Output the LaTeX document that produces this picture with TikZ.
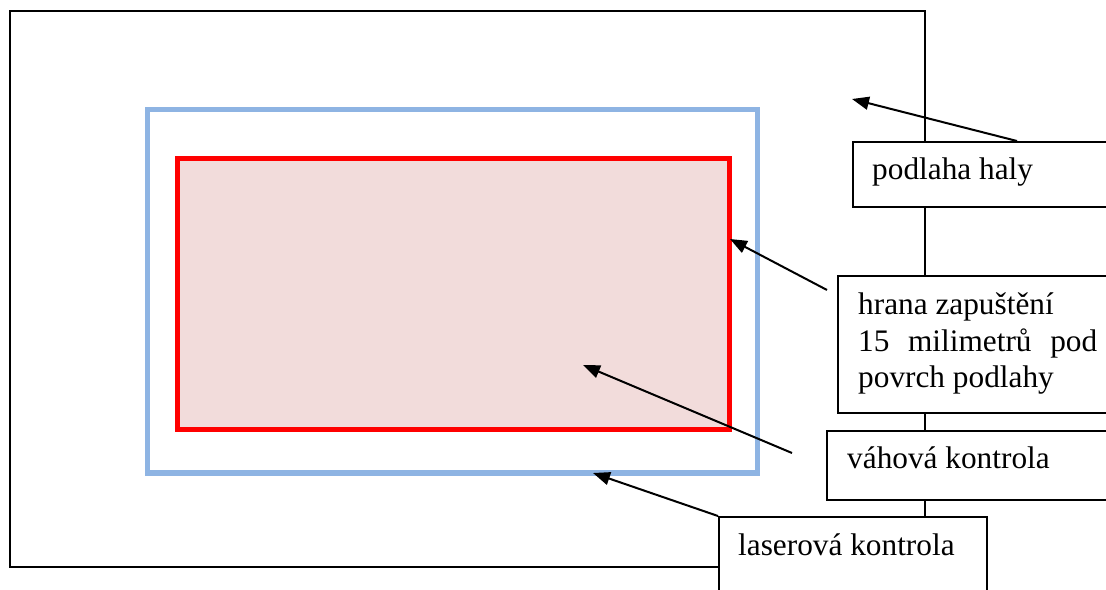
\documentclass[tikz,border=0pt]{standalone}
\usepackage{fontspec}
\setmainfont{Liberation Serif}
\usetikzlibrary{arrows.meta}
\definecolor{laserblue}{HTML}{8EB4E3}
\definecolor{weighfill}{HTML}{F2DCDB}
\begin{document}
\begin{tikzpicture}[x=1bp,y=-1bp,
  hall/.style={draw=black,line width=2bp},
  laser/.style={draw=laserblue,line width=5.5bp},
  weigh/.style={draw=red,fill=weighfill,line width=5.5bp},
  callout/.style={draw=black,fill=white,line width=2bp,inner sep=0pt,anchor=north west},
  lbl/.style={inner sep=0pt,anchor=base west,font=\fontsize{31.3bp}{36bp}\selectfont},
  pointer/.style={draw=black,line width=2bp,-{Triangle[length=17bp,width=13bp]}}]
\clip (0,0) rectangle (1106,590);
\fill[white] (0,0) rectangle (1106,590);

% floor of the hall, measuring zones
\draw[hall] (9.5,11.5) rectangle (925,567);
\draw[laser] (147.5,109.5) rectangle (757.5,473);
\draw[weigh] (177.5,158.5) rectangle (729.5,429.5);

% arrow end points
\coordinate (p1tip) at (852,99);
\coordinate (p1tail) at (1017,141);
\coordinate (p2tip) at (730,239);
\coordinate (p2tail) at (827,290);
\coordinate (p3tip) at (583,365);
\coordinate (p3tail) at (792,453);
\coordinate (p4tip) at (593,473);
\coordinate (p4tail) at (718,516);

\draw[pointer] (p1tail) -- (p1tip);
\draw[pointer] (p2tail) -- (p2tip);
\draw[pointer] (p3tail) -- (p3tip);
\draw[pointer] (p4tail) -- (p4tip);

% callout boxes
\node[callout,minimum width=280bp,minimum height=65bp] (floorbox) at (852,141) {};
\node[lbl] (floortext) at (872,180) {podlaha haly};

\node[callout,minimum width=290bp,minimum height=137bp] (edgebox) at (837,275) {};
\node[lbl,align=left] (edgetext) at (858,387) {hrana zapuštění\\\makebox[239bp][s]{15 milimetrů pod}\\povrch podlahy};

\node[callout,minimum width=300bp,minimum height=69bp] (weighbox) at (826,430) {};
\node[lbl] (weightext) at (847,468) {váhová kontrola};

\node[callout,minimum width=268bp,minimum height=90bp] (laserbox) at (718,516) {};
\node[lbl] (lasertext) at (738,555) {laserová kontrola};
\end{tikzpicture}
\end{document}
